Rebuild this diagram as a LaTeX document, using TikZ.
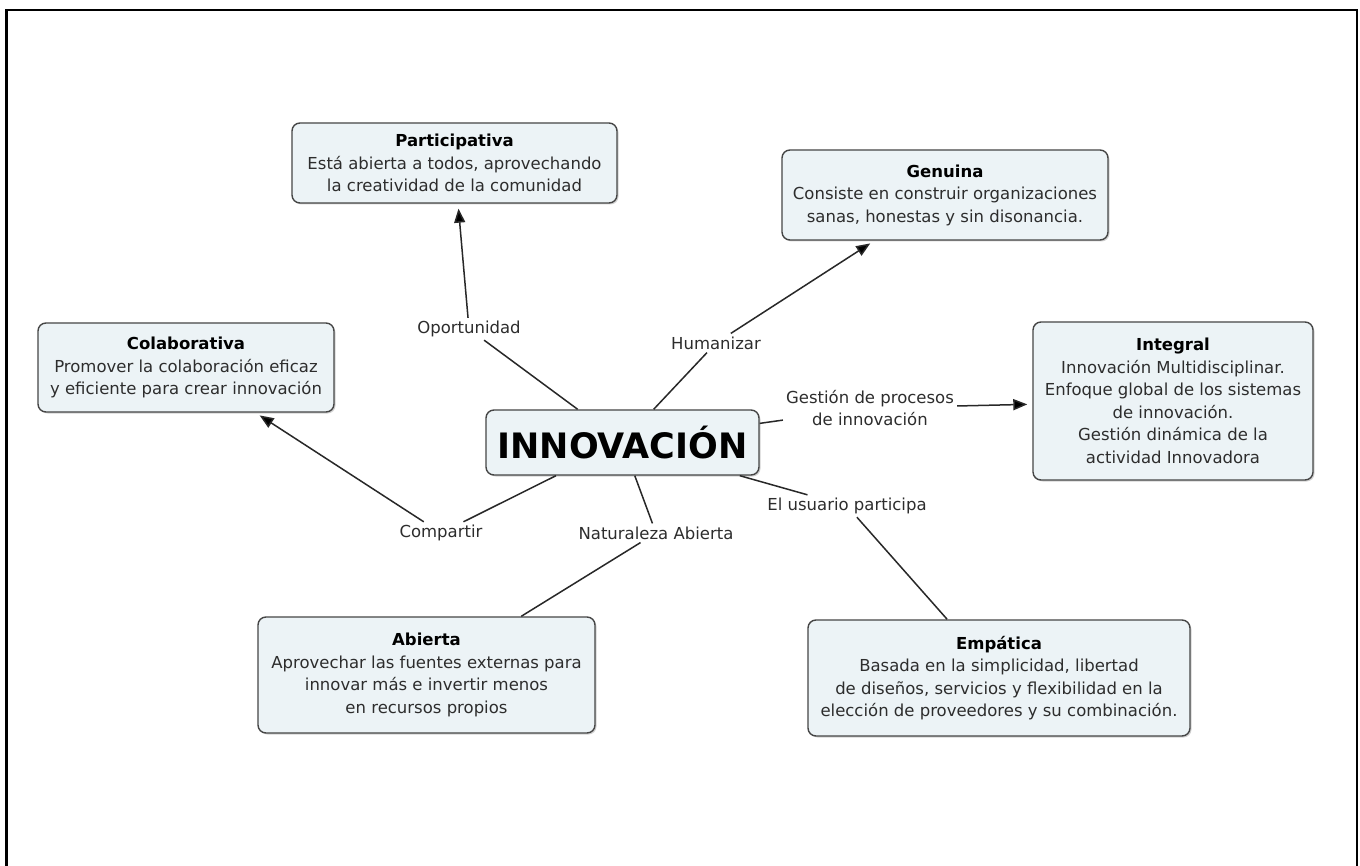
\documentclass[tikz,border=0pt]{standalone}
\usepackage{fontspec}
\setmainfont{DejaVu Sans}
\usetikzlibrary{arrows.meta,shadows}
\definecolor{boxfill}{RGB}{236,243,246}
\definecolor{boxline}{RGB}{70,70,70}
\definecolor{txt}{RGB}{45,45,45}
\definecolor{linkc}{RGB}{40,40,40}
\begin{document}
\begin{tikzpicture}[x=1pt,y=-1pt,
  concept/.style={draw=boxline, fill=boxfill, rounded corners=8pt, line width=1.4pt,
    align=center, text=txt, font=\fontsize{16.5}{22.5}\selectfont, inner sep=0pt,
    drop shadow={shadow xshift=1.5pt, shadow yshift=-1.5pt, opacity=0.35}},
  lbl/.style={align=center, text=txt, font=\fontsize{16.5}{22.5}\selectfont, inner sep=3pt},
  link/.style={draw=linkc, line width=1.5pt},
  arr/.style={link, -{Triangle[length=14pt,width=11pt,fill=black]}, shorten >=5pt}]
\useasboundingbox (0,0) rectangle (1360,866);
\fill[white] (0,0) rectangle (1360,866);
\draw[line width=2.6pt, black] (6.3,10) rectangle (1357,900);

% concepts
\node[concept, minimum width=325pt, minimum height=80pt] (part) at (454.5,163)
  {{\bfseries\color{black}Participativa}\\Está abierta a todos, aprovechando\\la creatividad de la comunidad};
\node[concept, minimum width=326pt, minimum height=90pt] (gen) at (945,195)
  {{\bfseries\color{black}Genuina}\\Consiste en construir organizaciones\\sanas, honestas y sin disonancia.};
\node[concept, minimum width=296pt, minimum height=89pt] (col) at (186,367.5)
  {{\bfseries\color{black}Colaborativa}\\Promover la colaboración eficaz\\y eficiente para crear innovación};
\node[concept, minimum width=280pt, minimum height=158pt] (integ) at (1173,401)
  {{\bfseries\color{black}Integral}\\Innovación Multidisciplinar.\\Enfoque global de los sistemas\\de innovación.\\Gestión dinámica de la\\actividad Innovadora};
\node[concept, minimum width=273pt, minimum height=65pt, text=black,
  font=\bfseries\fontsize{35}{40}\selectfont] (inno) at (622.5,442.5) {INNOVACIÓN};
\node[concept, minimum width=337pt, minimum height=116pt] (abi) at (426.5,675)
  {{\bfseries\color{black}Abierta}\\Aprovechar las fuentes externas para\\innovar más e invertir menos\\en recursos propios};
\node[concept, minimum width=382pt, minimum height=116pt] (emp) at (999,678)
  {{\bfseries\color{black}Empática}\\Basada en la simplicidad, libertad\\de diseños, servicios y flexibilidad en la\\elección de proveedores y su combinación.};

% linking phrases
\node[lbl] (op) at (469,329) {Oportunidad};
\node[lbl] (hum) at (716,343) {Humanizar};
\node[lbl] (ges) at (870,408) {Gestión de procesos\\de innovación};
\node[lbl] (comp) at (441,533) {Compartir};
\node[lbl] (nat) at (656,533) {Naturaleza Abierta};
\node[lbl] (usu) at (847,506) {El usuario participa};

% connectors
\draw[link] (inno) -- (op);
\draw[arr] (op) -- (part);
\draw[link] (inno) -- (hum);
\draw[arr] (hum) -- (gen);
\draw[link] (inno) -- (ges);
\draw[arr] (ges) -- (integ);
\draw[link] (inno) -- (comp);
\draw[arr] (comp) -- (col);
\draw[link] (inno) -- (nat);
\draw[link] (nat) -- (abi);
\draw[link] (inno) -- (usu);
\draw[link] (usu) -- (emp);
\end{tikzpicture}
\end{document}
